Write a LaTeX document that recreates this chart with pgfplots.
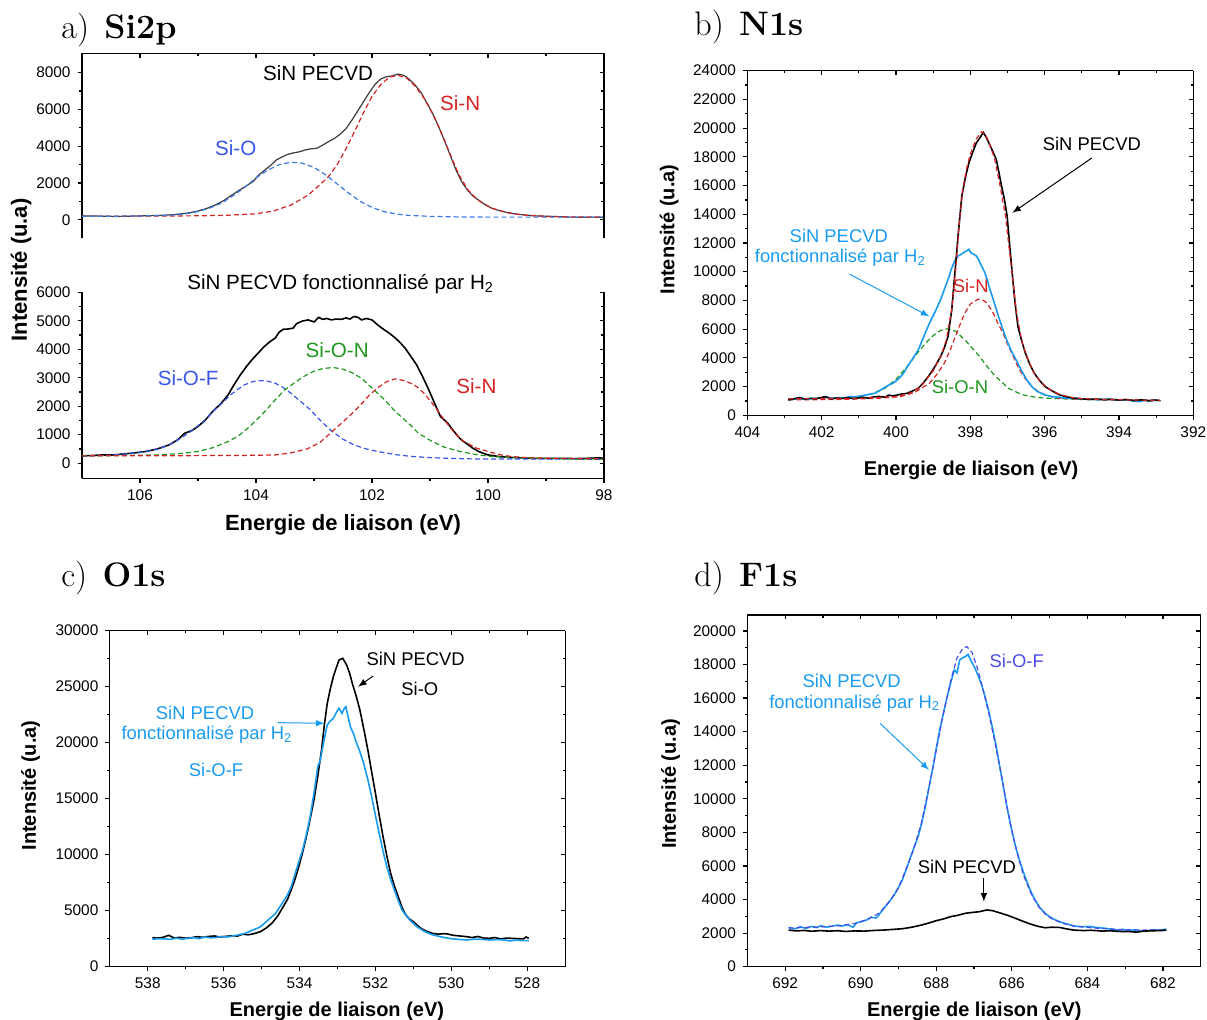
\documentclass[border=0pt]{standalone}
\usepackage{pgfplots}
\pgfplotsset{compat=1.18}
\usepackage{fontspec}
\setsansfont{Liberation Sans}
\definecolor{cblue}{RGB}{25,155,240}
\definecolor{cred}{RGB}{215,35,35}
\definecolor{cgreen}{RGB}{30,150,30}
\definecolor{sioblue}{RGB}{60,120,230}
\definecolor{textblue}{RGB}{55,85,235}
\definecolor{royal}{RGB}{75,75,230}
\definecolor{dgray}{RGB}{60,60,60}
\newcommand\tickfont{\sffamily\fontsize{7.7}{9}\selectfont}
\newcommand\annA{\sffamily\fontsize{10.3}{12}\selectfont}
\newcommand\annB{\sffamily\fontsize{9.2}{11}\selectfont}
\newcommand\labA{\sffamily\bfseries\fontsize{11}{13}\selectfont}
\newcommand\labB{\sffamily\bfseries\fontsize{10}{12}\selectfont}
\newcommand\ttl{\rmfamily\fontsize{17}{20}\selectfont}
\pgfplotsset{
 base/.style={scale only axis, x dir=reverse, clip=false, anchor=south west,
   axis line style={-, line width=0.6pt},
   every tick/.style={black, line width=0.6pt},
   major tick length=2.2pt, minor tick length=1.3pt,
   tick label style={font=\tickfont},
   /pgf/number format/assume math mode=true,
   /pgf/number format/1000 sep={},
   scaled ticks=false,
   minor x tick num=1, minor y tick num=1},
 front/.style={base, tick align=outside},
 back/.style={base, tick align=inside, xticklabels={}, yticklabels={}, tick label style={opacity=0}},
 solk/.style={black, line width=0.8pt, no markers},
 solb/.style={cblue, line width=0.8pt, no markers},
 dsh/.style={line width=0.6pt, dash pattern=on 2.5pt off 1.5pt, no markers},
 pa/.style={width=261pt, xmin=98, xmax=107, xtick={98,100,...,106}},
 pau/.style={pa, at={(41pt,390.85pt)}, height=92.5pt, ymin=-1000, ymax=9050, ytick={0,2000,...,8000}},
 pal/.style={pa, at={(41pt,270.85pt)}, height=93pt, ymin=-530, ymax=6000, ytick={0,1000,...,6000}},
 pb/.style={at={(373.7pt,302.35pt)}, width=222.95pt, height=172.3pt, xmin=392, xmax=404, ymin=0, ymax=24000, xtick={392,394,...,404}, ytick={0,2000,...,24000}},
 pc/.style={at={(54.9pt,26.65pt)}, width=227.7pt, height=168pt, xmin=527, xmax=539, ymin=0, ymax=30000, xtick={528,530,...,538}, ytick={0,5000,...,30000}},
 pd/.style={at={(373.7pt,26.65pt)}, width=226.65pt, height=175.85pt, xmin=681, xmax=693, ymin=0, ymax=20950, xtick={682,684,...,692}, ytick={0,2000,...,20000}},
}
\begin{document}
\begin{tikzpicture}
\useasboundingbox (0,0) rectangle (603.5pt,510pt);
% ---------------- panel a upper
\begin{axis}[front, pau, axis x line=none, axis y line*=left]
\addplot[dgray, line width=0.6pt, no markers] coordinates {
(107.0,220)(106.8,210)(106.6,195)(106.4,185)(106.2,200)(106.0,215)(105.8,230)(105.6,250)(105.4,290)(105.2,360)
(105.0,480)(104.85,620)(104.7,810)(104.55,1060)(104.4,1380)(104.3,1590)(104.15,1880)(104.05,2080)(103.95,2450)
(103.85,2700)(103.75,2950)(103.65,3250)(103.55,3420)(103.45,3560)(103.35,3640)(103.25,3700)(103.15,3800)
(103.05,3860)(102.95,3890)(102.85,4060)(102.75,4250)(102.65,4420)(102.55,4650)(102.45,4950)(102.35,5400)
(102.25,5900)(102.15,6400)(102.05,6900)(101.95,7350)(101.85,7650)(101.75,7780)(101.65,7820)(101.55,7920)
(101.45,7850)(101.35,7620)(101.25,7300)(101.15,6900)(101.05,6330)(100.95,5750)(100.85,5060)(100.75,4300)
(100.65,3500)(100.55,2700)(100.45,2050)(100.35,1600)(100.25,1270)(100.15,1040)(100.05,830)(99.95,650)
(99.8,500)(99.65,380)(99.5,310)(99.35,260)(99.2,220)(99.0,200)(98.8,175)(98.6,150)(98.4,145)(98.2,150)(98.0,140)};
\addplot[dsh, cred] coordinates {
(107,200)(106.5,200)(106,205)(105.5,210)(105,220)(104.5,250)(104.0,330)(103.7,480)(103.4,800)(103.1,1350)
(102.9,1900)(102.75,2350)(102.6,3000)(102.45,3850)(102.3,4800)(102.15,5800)(102.0,6700)(101.85,7350)
(101.7,7750)(101.55,7850)(101.4,7700)(101.25,7250)(101.1,6600)(100.95,5750)(100.8,4700)(100.65,3550)
(100.5,2450)(100.35,1650)(100.2,1150)(100.05,830)(99.9,600)(99.7,420)(99.5,310)(99.3,240)(99.0,190)(98.5,160)(98.0,150)};
\addplot[dsh, sioblue] coordinates {
(107,200)(106.5,200)(106,210)(105.5,250)(105.2,330)(105.0,450)(104.8,640)(104.6,900)(104.4,1300)(104.2,1750)
(104.0,2280)(103.8,2700)(103.6,3000)(103.4,3130)(103.2,3080)(103.0,2850)(102.8,2450)(102.6,1950)(102.4,1450)
(102.2,1000)(102.0,680)(101.8,450)(101.6,330)(101.4,250)(101.0,190)(100.5,160)(100,150)(99,150)(98,150)};
\node[font=\annA] at (axis cs:102.93,7960) {SiN PECVD};
\node[font=\annA, text=textblue] at (axis cs:104.35,3890) {Si-O};
\node[font=\annA, text=cred] at (axis cs:100.48,6330) {Si-N};
\end{axis}
\begin{axis}[back, pau, axis x line*=top, axis y line*=right]
\end{axis}
% ---------------- panel a lower
\begin{axis}[front, pal, axis x line*=bottom, axis y line*=left]
\addplot[solk] coordinates {
(107.0,257)(106.8,270)(106.65,290)(106.5,285)(106.4,300)(106.25,330)(106.1,360)(105.9,410)(105.7,500)(105.5,640)
(105.35,820)(105.23,1050)(105.1,1150)(105.0,1290)(104.88,1500)(104.75,1810)(104.6,2100)(104.48,2400)(104.38,2750)
(104.27,3100)(104.17,3380)(104.07,3630)(103.97,3850)(103.87,4070)(103.77,4250)(103.67,4390)(103.6,4600)
(103.53,4700)(103.45,4710)(103.36,4740)(103.3,4900)(103.2,4990)(103.1,5030)(103.0,4960)(102.92,5120)
(102.85,5050)(102.78,5080)(102.7,5030)(102.62,5060)(102.52,5050)(102.45,5100)(102.38,5060)(102.31,5150)
(102.24,5120)(102.18,5030)(102.1,5080)(102.0,5030)(101.9,4850)(101.8,4700)(101.7,4560)(101.6,4400)
(101.5,4200)(101.43,4040)(101.33,3750)(101.23,3450)(101.13,3050)(101.02,2570)(100.92,2100)(100.82,1640)
(100.7,1420)(100.6,1150)(100.5,900)(100.44,790)(100.35,660)(100.27,540)(100.15,400)(100.0,290)(99.8,230)
(99.6,200)(99.4,185)(99.2,170)(98.92,165)(98.7,170)(98.5,160)(98.3,170)(98.1,185)(98.0,175)};
\addplot[dsh, textblue] coordinates {
(107.0,257)(106.5,280)(106.0,370)(105.7,490)(105.5,640)(105.3,870)(105.1,1150)(104.9,1480)(104.75,1790)
(104.6,2080)(104.45,2380)(104.33,2570)(104.2,2750)(104.05,2870)(103.93,2900)(103.8,2880)(103.67,2810)
(103.55,2680)(103.4,2460)(103.25,2200)(103.06,1870)(102.9,1520)(102.72,1170)(102.5,840)(102.31,640)
(102.1,500)(101.9,410)(101.6,300)(101.3,235)(101.0,195)(100.6,165)(100.27,150)(99.5,145)(98.0,140)};
\addplot[dsh, cgreen] coordinates {
(107.0,257)(106.5,265)(106.0,280)(105.7,290)(105.3,340)(105.0,410)(104.75,540)(104.48,760)(104.3,960)
(104.14,1230)(103.95,1600)(103.8,1920)(103.67,2220)(103.5,2580)(103.35,2800)(103.2,3020)(103.0,3230)
(102.85,3320)(102.67,3360)(102.5,3300)(102.35,3180)(102.18,2980)(102.0,2640)(101.78,2220)(101.6,1820)
(101.37,1400)(101.2,1050)(100.96,760)(100.75,560)(100.48,410)(100.2,300)(99.93,235)(99.6,200)(99.25,175)(98.5,150)(98.0,140)};
\addplot[dsh, cred] coordinates {
(107.0,257)(106,260)(105,265)(104.3,270)(103.9,280)(103.67,290)(103.4,360)(103.12,500)(102.9,720)(102.72,1050)
(102.5,1450)(102.31,1810)(102.15,2150)(102.04,2400)(101.9,2650)(101.75,2860)(101.6,2960)(101.45,2900)
(101.3,2780)(101.23,2690)(101.1,2450)(100.96,2100)(100.8,1650)(100.62,1170)(100.5,900)(100.41,760)
(100.2,530)(100.0,410)(99.8,300)(99.6,235)(99.3,190)(99.0,175)(98.5,160)(98.0,150)};
\node[font=\annA] at (axis cs:102.54,6290) {SiN PECVD fonctionnalisé par H\textsubscript{2}};
\node[font=\annA, text=textblue] at (axis cs:105.17,2980) {Si-O-F};
\node[font=\annA, text=cgreen] at (axis cs:102.6,3980) {Si-O-N};
\node[font=\annA, text=cred] at (axis cs:100.2,2710) {Si-N};
\end{axis}
\begin{axis}[back, pal, axis x line=none, axis y line*=right]
\end{axis}
% ---------------- panel b
\begin{axis}[front, pb, axis x line*=bottom, axis y line*=left]
\addplot[dsh, cgreen] coordinates {
(402.9,1120)(402.0,1150)(401.5,1200)(401.05,1260)(400.7,1450)(400.3,1880)(400.0,2500)(399.7,3400)(399.45,4250)
(399.2,5030)(399.0,5550)(398.8,5910)(398.62,6020)(398.4,5860)(398.15,5260)(397.95,4680)(397.75,4090)
(397.55,3400)(397.36,2810)(397.15,2300)(396.97,1880)(396.75,1600)(396.58,1420)(396.3,1280)(395.99,1190)
(395.0,1100)(394,1070)(393,1060)};
\addplot[dsh, cred] coordinates {
(402.9,1070)(401.5,1100)(400.5,1180)(399.88,1300)(399.5,1580)(399.1,2230)(398.9,2850)(398.7,3630)(398.55,4500)
(398.4,5490)(398.28,6300)(398.15,7120)(398.0,7750)(397.79,8090)(397.65,8000)(397.55,7810)(397.4,7200)
(397.26,6420)(397.1,5600)(396.97,4790)(396.82,3950)(396.68,3160)(396.52,2550)(396.38,2100)(396.2,1700)
(395.99,1420)(395.8,1280)(395.6,1190)(395.0,1120)(394,1070)(393,1040)};
\addplot[solb] coordinates {
(402.9,1070)(402.75,1120)(402.6,1180)(402.45,1100)(402.3,1150)(402.15,1200)(402.0,1190)(401.85,1250)(401.7,1180)
(401.55,1230)(401.4,1200)(401.25,1300)(401.1,1280)(400.95,1350)(400.8,1420)(400.68,1480)(400.57,1530)
(400.45,1700)(400.3,1950)(400.2,2100)(400.08,2230)(399.95,2500)(399.82,2850)(399.69,3400)(399.55,3950)
(399.4,4560)(399.25,5500)(399.1,6420)(398.95,7200)(398.8,8050)(398.68,8900)(398.57,9670)(398.52,10130)
(398.43,10700)(398.33,11100)(398.25,11200)(398.18,11330)(398.1,11450)(398.04,11560)(397.98,11300)
(397.9,11200)(397.84,11100)(397.77,10800)(397.7,10400)(397.62,10000)(397.55,9480)(397.5,9000)(397.4,8200)
(397.3,7350)(397.18,6400)(397.06,5490)(396.92,4600)(396.77,3860)(396.62,3100)(396.48,2460)(396.33,1950)
(396.19,1650)(396.0,1420)(395.8,1300)(395.6,1250)(395.4,1180)(395.2,1190)(395.0,1130)(394.8,1150)
(394.6,1080)(394.4,1120)(394.2,1100)(394.0,1050)(393.8,1080)(393.6,990)(393.46,950)(393.3,1040)(393.1,1000)(392.95,1070)};
\addplot[solk] coordinates {
(402.9,1070)(402.75,1150)(402.6,1230)(402.45,1130)(402.3,1180)(402.15,1150)(402.03,1230)(401.9,1300)(401.75,1140)
(401.6,1200)(401.45,1170)(401.3,1220)(401.15,1160)(401.05,1190)(400.9,1250)(400.75,1200)(400.6,1280)
(400.45,1310)(400.3,1260)(400.2,1400)(400.09,1350)(399.95,1420)(399.85,1480)(399.7,1530)(399.55,1700)
(399.4,1880)(399.25,2300)(399.1,2810)(398.95,3400)(398.8,4090)(398.7,4700)(398.6,5490)(398.5,7350)
(398.43,9480)(398.33,12500)(398.23,15260)(398.13,16600)(398.04,17570)(397.94,18300)(397.84,18960)
(397.75,19300)(397.65,19700)(397.58,19400)(397.5,18960)(397.4,18400)(397.3,17800)(397.23,16900)
(397.16,15950)(397.08,15000)(397.01,13870)(396.94,11800)(396.87,9800)(396.8,7900)(396.72,6190)
(396.62,5200)(396.52,4330)(396.4,3550)(396.28,2930)(396.13,2400)(395.99,2000)(395.8,1700)(395.6,1420)
(395.4,1280)(395.21,1190)(395.0,1150)(394.8,1100)(394.6,1130)(394.4,1080)(394.24,1120)(394.0,1060)
(393.8,1100)(393.6,1020)(393.4,1080)(393.2,1000)(393.05,1060)(392.88,1020)};
\addplot[dsh, cred] coordinates {
(402.9,1150)(401,1180)(400.0,1300)(399.6,1550)(399.3,2100)(399.0,3100)(398.8,4100)(398.65,5200)(398.5,7400)
(398.4,10000)(398.3,13300)(398.2,15800)(398.1,17200)(398.0,18200)(397.85,19200)(397.7,19750)(397.6,19600)
(397.5,19000)(397.35,17900)(397.2,16000)(397.05,13800)(396.95,11500)(396.85,9300)(396.75,7000)(396.6,5000)
(396.45,3900)(396.3,3000)(396.1,2300)(395.9,1850)(395.6,1450)(395.2,1200)(394.5,1100)(393.5,1060)(392.9,1040)};
\node[font=\annB] at (axis cs:394.73,18890) {SiN PECVD};
\draw[-latex, line width=0.5pt] (axis cs:394.73,17920) -- (axis cs:396.87,14100);
\node[font=\annB, text=cblue] at (axis cs:401.54,12490) {SiN PECVD};
\node[font=\annB, text=cblue] at (axis cs:401.5,10980) {fonctionnalisé par H\textsubscript{2}};
\draw[-latex, cblue, line width=0.5pt] (axis cs:401.25,9830) -- (axis cs:399.1,6880);
\node[font=\annB, text=cred] at (axis cs:397.99,8980) {Si-N};
\node[font=\annB, text=cgreen] at (axis cs:398.28,2000) {Si-O-N};
\end{axis}
\begin{axis}[back, pb, axis x line*=top, axis y line*=right]
\end{axis}
% ---------------- panel c
\begin{axis}[front, pc, axis x line*=bottom, axis y line*=left]
\addplot[solk] coordinates {
(537.88,2590)(537.75,2550)(537.6,2620)(537.45,2800)(537.3,2560)(537.15,2620)(537.0,2540)(536.84,2590)(536.7,2680)
(536.55,2620)(536.4,2700)(536.24,2740)(536.1,2650)(535.95,2700)(535.8,2760)(535.63,2740)(535.5,2900)
(535.35,2850)(535.2,2950)(535.03,3130)(534.88,3450)(534.73,3870)(534.58,4500)(534.43,5360)(534.32,6000)
(534.22,6850)(534.12,7800)(534.02,8930)(533.92,10200)(533.82,11610)(533.72,13200)(533.62,14880)
(533.52,17000)(533.42,19350)(533.35,21500)(533.27,23510)(533.19,24800)(533.11,25890)(533.03,26700)
(532.96,27380)(532.86,27530)(532.76,26940)(532.68,26200)(532.61,25300)(532.51,24200)(532.41,22920)
(532.3,21100)(532.2,19350)(532.1,17400)(532.0,15480)(531.9,13500)(531.8,11610)(531.7,9900)(531.6,8330)
(531.5,7200)(531.4,6250)(531.3,5300)(531.2,4610)(531.1,4250)(531.0,4020)(530.9,3700)(530.8,3420)
(530.65,3150)(530.5,2980)(530.35,2900)(530.2,2950)(530.1,2920)(529.95,2800)(529.8,2750)(529.6,2680)
(529.45,2600)(529.3,2700)(529.15,2550)(529.0,2530)(528.85,2600)(528.7,2480)(528.55,2550)(528.4,2530)
(528.25,2500)(528.1,2480)(528.03,2650)(527.96,2530)};
\addplot[solb] coordinates {
(537.88,2440)(537.7,2500)(537.55,2480)(537.4,2440)(537.25,2550)(537.1,2460)(536.95,2520)(536.8,2600)(536.65,2500)
(536.5,2650)(536.35,2580)(536.2,2600)(536.05,2700)(535.9,2650)(535.75,2750)(535.6,2850)(535.43,2980)
(535.25,3250)(535.1,3450)(535.03,3570)(534.85,4100)(534.63,4760)(534.45,5700)(534.32,6400)(534.22,7140)
(534.08,8700)(533.92,10420)(533.82,11800)(533.72,13390)(533.62,15500)(533.52,17860)(533.45,18500)
(533.37,19940)(533.32,20800)(533.27,21580)(533.2,21900)(533.11,22170)(533.03,22700)(532.96,23070)
(532.88,22620)(532.83,23000)(532.78,23210)(532.72,22300)(532.66,21430)(532.58,20800)(532.51,20090)
(532.41,19200)(532.31,18150)(532.2,16700)(532.1,15180)(532.0,13500)(531.9,11900)(531.8,10300)(531.7,8930)
(531.6,7800)(531.5,6850)(531.4,5900)(531.3,5060)(531.18,4500)(531.05,4020)(530.9,3550)(530.7,3130)
(530.5,2850)(530.3,2680)(530.1,2550)(529.95,2480)(529.8,2440)(529.6,2380)(529.4,2460)(529.2,2440)
(529.0,2380)(528.8,2420)(528.6,2380)(528.45,2300)(528.3,2380)(528.15,2330)(527.96,2320)};
\node[font=\annB] at (axis cs:530.94,27440) {SiN PECVD};
\node[font=\annB] at (axis cs:530.83,24760) {Si-O};
\draw[-latex, line width=0.5pt] (axis cs:532.06,25950) -- (axis cs:532.46,25000);
\node[font=\annB, text=cblue] at (axis cs:536.49,22620) {SiN PECVD};
\node[font=\annB, text=cblue] at (axis cs:536.44,20680) {fonctionnalisé par H\textsubscript{2}};
\node[font=\annB, text=cblue] at (axis cs:536.2,17560) {Si-O-F};
\draw[-latex, cblue, line width=0.5pt] (axis cs:534.58,21790) -- (axis cs:533.34,21730);
\end{axis}
\begin{axis}[back, pc, axis x line*=top, axis y line*=right]
\end{axis}
% ---------------- panel d
\begin{axis}[front, pd, axis x line*=bottom, axis y line*=left]
\addplot[solb] coordinates {
(691.91,2340)(691.75,2250)(691.6,2380)(691.45,2280)(691.3,2400)(691.15,2330)(691.07,2440)(690.9,2350)(690.75,2420)
(690.6,2480)(690.5,2420)(690.35,2500)(690.2,2350)(690.11,2620)(689.95,2700)(689.8,2820)(689.73,2940)
(689.6,2900)(689.54,3020)(689.45,3300)(689.35,3570)(689.2,4000)(689.06,4470)(688.9,5150)(688.77,5960)
(688.62,6900)(688.48,7750)(688.38,8600)(688.29,9530)(688.2,10600)(688.1,11720)(688.0,13000)(687.91,14100)
(687.8,15200)(687.71,16090)(687.62,16900)(687.52,17680)(687.45,17500)(687.38,18270)(687.3,18400)
(687.23,18470)(687.16,18600)(687.09,18270)(687.0,17900)(686.9,17380)(686.8,16800)(686.71,16090)
(686.62,15300)(686.52,14300)(686.42,13200)(686.32,11920)(686.22,10700)(686.13,9530)(686.02,8300)
(685.9,7150)(685.78,6200)(685.65,5360)(685.53,4650)(685.41,4070)(685.27,3550)(685.12,3180)(684.95,2900)
(684.74,2680)(684.55,2550)(684.36,2420)(684.15,2380)(683.95,2400)(683.78,2340)(683.6,2300)(683.4,2250)
(683.21,2180)(683.05,2220)(682.9,2120)(682.75,2200)(682.63,2140)(682.45,2100)(682.3,2200)(682.1,2170)(681.91,2240)};
\addplot[dsh, royal] coordinates {
(691.91,2300)(691,2380)(690.5,2450)(690.1,2600)(689.8,2850)(689.5,3200)(689.2,4000)(689.0,4700)(688.8,5800)
(688.6,7000)(688.4,8500)(688.2,10600)(688.0,12900)(687.8,15200)(687.6,17200)(687.45,18400)(687.3,18950)
(687.19,19070)(687.05,18700)(686.9,17700)(686.75,16400)(686.6,15000)(686.45,13400)(686.3,11700)(686.15,9800)
(686.0,8100)(685.85,6700)(685.7,5500)(685.5,4400)(685.3,3600)(685.1,3100)(684.9,2800)(684.6,2550)(684.3,2400)
(683.8,2300)(683,2200)(682,2180)};
\addplot[solk] coordinates {
(691.91,2180)(691.7,2130)(691.5,2160)(691.3,2110)(691.07,2150)(690.85,2120)(690.6,2140)(690.4,2100)(690.15,2130)
(689.9,2120)(689.65,2160)(689.4,2180)(689.15,2220)(688.9,2260)(688.65,2350)(688.39,2480)(688.2,2600)
(688.0,2740)(687.8,2850)(687.62,2980)(687.45,3050)(687.23,3180)(687.05,3230)(686.85,3280)(686.66,3380)
(686.5,3330)(686.28,3180)(686.1,3050)(685.9,2880)(685.7,2700)(685.51,2540)(685.3,2400)(685.12,2320)
(684.95,2350)(684.74,2340)(684.55,2250)(684.36,2180)(684.1,2150)(683.9,2170)(683.6,2120)(683.4,2140)
(683.15,2100)(682.9,2090)(682.7,2060)(682.5,2120)(682.25,2140)(682.05,2150)(681.91,2180)};
\node[font=\annB, text=royal] at (axis cs:685.87,18210) {Si-O-F};
\node[font=\annB, text=cblue] at (axis cs:690.24,17040) {SiN PECVD};
\node[font=\annB, text=cblue] at (axis cs:690.16,15690) {fonctionnalisé par H\textsubscript{2}};
\draw[-latex, cblue, line width=0.5pt] (axis cs:689.49,14500) -- (axis cs:688.19,11720);
\node[font=\annB] at (axis cs:687.19,5960) {SiN PECVD};
\draw[-latex, line width=0.5pt] (axis cs:686.74,5260) -- (axis cs:686.74,3870);
\end{axis}
\begin{axis}[back, pd, axis x line*=top, axis y line*=right]
\end{axis}
% ---------------- titles and labels
\node[anchor=west, font=\ttl, inner sep=0pt] at (30.5pt,495pt) {a)\hspace{0.45em}\textbf{Si2p}};
\node[anchor=west, font=\ttl, inner sep=0pt] at (347pt,496.5pt) {b)\hspace{0.45em}\textbf{N1s}};
\node[anchor=west, font=\ttl, inner sep=0pt] at (30.5pt,221pt) {c)\hspace{0.45em}\textbf{O1s}};
\node[anchor=west, font=\ttl, inner sep=0pt] at (347pt,221pt) {d)\hspace{0.45em}\textbf{F1s}};
\node[font=\labA] at (171.5pt,247.5pt) {Energie de liaison (eV)};
\node[font=\labA, rotate=90] at (10.5pt,375pt) {Intensité (u.a)};
\node[font=\labB] at (485.5pt,275pt) {Energie de liaison (eV)};
\node[font=\labB, rotate=90] at (334.5pt,395.25pt) {Intensité (u.a)};
\node[font=\labB] at (168.4pt,4.15pt) {Energie de liaison (eV)};
\node[font=\labB, rotate=90] at (15.3pt,117.25pt) {Intensité (u.a)};
\node[font=\labB] at (487.2pt,4.15pt) {Energie de liaison (eV)};
\node[font=\labB, rotate=90] at (335.25pt,118pt) {Intensité (u.a)};
\end{tikzpicture}
\end{document}
